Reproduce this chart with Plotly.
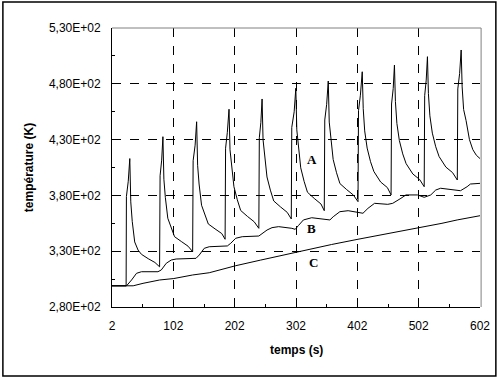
import plotly.graph_objects as go

# ---- data ----
A_x = [2, 25, 25.5, 28.5, 31, 32.6, 35, 39, 44.5, 50, 61, 72, 79.6,
       80.4, 83, 85, 86.6, 89, 93, 98.5, 104, 115, 126, 133.5,
       134.3, 137.5, 140, 141.6, 144, 148, 153.5, 159, 170, 181, 186.4,
       187.2, 190, 192.8, 194.4, 196.8, 200.8, 206.3, 211.8, 222.8, 233.8, 241.4,
       242.2, 244.7, 246.7, 248.3, 250.7, 254.7, 260.2, 265.7, 276.7, 287.7, 294.3,
       295.1, 299, 301.7, 303.3, 305.7, 309.7, 315.2, 320.7, 331.7, 342.7, 348.1,
       348.9, 352, 354.6, 356.2, 358.6, 362.6, 368.1, 373.6, 384.6, 395.6, 403.1,
       403.9, 407, 410, 411.6, 414, 418, 423.5, 429, 440, 451, 457,
       457.8, 460.5, 462.5, 464.1, 466.5, 470.5, 476, 481.5, 492.5, 503.5, 511,
       511.8, 514.3, 516.3, 517.9, 520.3, 524.3, 529.8, 535.3, 546.3, 557.3, 565,
       565.8, 568.8, 571.3, 572.9, 575.3, 579.3, 584.8, 590.3, 596, 602]
A_y = [299, 299, 379, 392.7, 413, 374.2, 356.7, 338.3, 331, 327.2, 323.3, 319.9, 316,
       397.6, 411.6, 432.6, 394.5, 378, 359.5, 350.2, 343, 338.7, 334.5, 329.6,
       411.1, 425, 446, 407, 390.2, 371.2, 361.8, 354.4, 350, 345.8, 340.7,
       422.3, 436.2, 457.2, 420.9, 406, 387.8, 376.1, 366.5, 361.2, 356.4, 350.5,
       431.6, 445.5, 466.4, 429.9, 414.8, 396.5, 384.7, 375, 369.7, 364.8, 358.9,
       440.9, 454.9, 476, 438.7, 423.3, 404.7, 392.6, 382.8, 377.3, 372.3, 366.3,
       447.6, 461.6, 482.5, 445.7, 430.6, 412.2, 400.3, 390.6, 385.2, 380.3, 374.4,
       455.9, 469.8, 490.8, 457.7, 437.8, 422.4, 410.2, 401.4, 392, 387, 380.4,
       461.9, 475.8, 496.8, 464.1, 444.5, 429.2, 417.2, 408.5, 399.2, 394.3, 387.8,
       469.4, 483.3, 504.3, 471.2, 451.3, 435.8, 423.6, 414.8, 405.4, 400.4, 393.8,
       475.4, 489.3, 510.3, 477.2, 457, 447, 430, 421, 416, 413]

B_x = [2, 25.7, 33.9, 42, 50, 76.9, 82.4, 90.5, 98.6, 106.6, 139, 144.3, 152.4, 160.5,
       190.1, 195.6, 203.7, 214.4, 241.4, 246.7, 254.8, 262.9, 273.7, 295.2, 300.7,
       306, 314.1, 327.6, 343.8, 357.3, 362.7, 373.5, 387, 405.9, 411.2, 419.3, 430.1,
       451.6, 459.7, 473.1, 481.2, 500.1, 511, 521.7, 529.8, 537.8, 554, 570.2, 581,
       586.4, 602]
B_y = [299, 299, 304.2, 310.2, 311.6, 311.6, 313.2, 319.2, 322.1, 323, 323.6, 326.6, 332.6, 334,
       334.7, 337.1, 341.6, 343, 343.6, 346, 349, 351.1, 352, 350.5, 349.6,
       353, 358, 360, 358.6, 358, 360.9, 365.4, 366.3, 364.5, 364, 368.4, 372.9,
       372, 372.9, 377.4, 380.4, 380.4, 378.3, 380.4, 384.8, 386.4, 385.5, 384.2, 387.8,
       390.2, 390.8]

C_x = [2, 36.5, 52.6, 79.6, 102.8, 133.5, 160.5, 203.7, 244, 273.7, 300.7, 316.9,
       360, 403.1, 450, 500.1, 540, 564.8, 602]
C_y = [299, 299, 301.2, 304.2, 305.5, 308.7, 310.7, 317, 322, 325.7, 329, 331.1,
       336, 340.7, 345.5, 350.5, 355, 358, 361.8]

x_ticks = [2, 102, 202, 302, 402, 502, 602]
x_labels = ["2", "102", "202", "302", "402", "502", "602"]
y_ticks = [280, 330, 380, 430, 480, 530]
y_labels = ["2,80E+02", "3,30E+02", "3,80E+02", "4,30E+02", "4,80E+02", "5,30E+02"]

curve_labels = ["A", "B", "C"]
label_x = [328.7, 327.6, 330.3]
label_y = [412.3, 350.5, 319.7]

# ---- figure ----
fig = go.Figure()
for xs, ys in [(A_x, A_y), (B_x, B_y), (C_x, C_y)]:
    fig.add_trace(go.Scatter(x=xs, y=ys, mode="lines",
                             line=dict(color="black", width=1),
                             showlegend=False, hoverinfo="skip"))

tickfont = dict(family="Liberation Sans, Arial, sans-serif", size=12, color="black")
fig.update_layout(
    width=502, height=380,
    margin=dict(l=112, r=19, t=28, b=73),
    paper_bgcolor="white", plot_bgcolor="white",
    showlegend=False,
    xaxis=dict(range=[2, 602], tickvals=x_ticks, ticktext=x_labels,
               showgrid=True, gridcolor="black", griddash="dash", gridwidth=1,
               showline=True, linecolor="black", linewidth=1,
               ticks="inside", ticklen=3, tickcolor="black",
               minor=dict(ticks="inside", ticklen=3, tickcolor="black",
                          tick0=2, dtick=50, showgrid=False),
               tickfont=tickfont, ticklabelstandoff=8, zeroline=False),
    yaxis=dict(range=[280, 530], tickvals=y_ticks, ticktext=y_labels,
               showgrid=True, gridcolor="black", griddash="dash", gridwidth=1,
               showline=True, linecolor="black", linewidth=1,
               ticks="inside", ticklen=3, tickcolor="black",
               minor=dict(ticks="inside", ticklen=3, tickcolor="black",
                          tick0=280, dtick=25, showgrid=False),
               tickfont=tickfont, ticklabelstandoff=8, zeroline=False),
)

# plot-area border (top/right gray) and outer frame
fig.add_shape(type="line", xref="paper", yref="paper", x0=0, x1=1.003, y0=1, y1=1,
              line=dict(color="#808080", width=1))
fig.add_shape(type="line", xref="paper", yref="paper", x0=1.003, x1=1.003, y0=0, y1=1,
              line=dict(color="#808080", width=1))
fig.add_shape(type="rect", xref="paper", yref="paper",
              x0=-0.2965, x1=1.0431, y0=-0.2473, y1=1.0932,
              line=dict(color="black", width=1.5))

# axis titles
titlefont = dict(family="Liberation Sans, Arial, sans-serif", size=12, color="black")
fig.add_annotation(text="<b>temps (s)</b>", xref="paper", yref="paper",
                   x=0.5, y=-0.154, xanchor="center", yanchor="middle",
                   showarrow=False, font=titlefont)
fig.add_annotation(text="<b>température (K)</b>", xref="paper", yref="paper",
                   x=-0.2264, y=0.5, xanchor="center", yanchor="middle",
                   textangle=-90, showarrow=False, font=titlefont)

# curve labels
for t, lx, ly in zip(curve_labels, label_x, label_y):
    fig.add_annotation(text="<b>%s</b>" % t, x=lx, y=ly, xref="x", yref="y",
                       showarrow=False, xanchor="center", yanchor="middle",
                       font=dict(family="Liberation Serif, Times New Roman, serif",
                                 size=13, color="black"))

fig.write_html("out.html", config={"displayModeBar": False},
               post_script="document.body.style.margin='0';")
